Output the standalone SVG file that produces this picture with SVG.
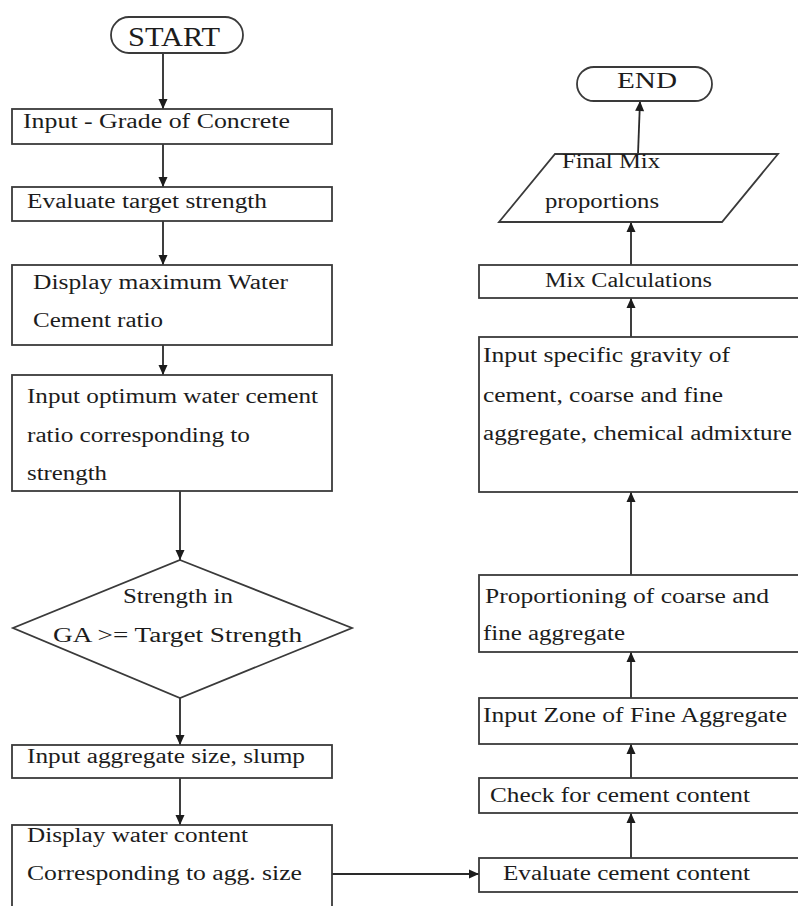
<svg xmlns="http://www.w3.org/2000/svg" width="798" height="906" viewBox="0 0 798 906">
<style>
  .shape { fill: #ffffff; stroke: #3a3a3a; stroke-width: 1.8; }
  .conn { fill: none; stroke: #2a2a2a; stroke-width: 1.8; }
  text { font-size: 20px; fill: #1c1c1c; }
  .term { font-size: 28px; }
  .term2 { font-size: 23px; }
</style>
<defs>
  <marker id="arr" markerUnits="userSpaceOnUse" markerWidth="12" markerHeight="12" viewBox="0 0 12 12" refX="11" refY="6" orient="auto">
    <path d="M1,1.5 L11,6 L1,10.5 Z" fill="#1c1c1c"/>
  </marker>
</defs>
<rect width="798" height="906" fill="#ffffff"/>

<g id="connectors">
  <line class="conn" x1="163" y1="53" x2="163" y2="109" marker-end="url(#arr)"/>
  <line class="conn" x1="163" y1="144" x2="163" y2="187" marker-end="url(#arr)"/>
  <line class="conn" x1="163" y1="221" x2="163" y2="265" marker-end="url(#arr)"/>
  <line class="conn" x1="163" y1="345" x2="163" y2="375" marker-end="url(#arr)"/>
  <line class="conn" x1="180" y1="491" x2="180" y2="560" marker-end="url(#arr)"/>
  <line class="conn" x1="180" y1="698" x2="180" y2="745" marker-end="url(#arr)"/>
  <line class="conn" x1="180" y1="778" x2="180" y2="825" marker-end="url(#arr)"/>
  <line class="conn" x1="332" y1="874" x2="479" y2="874" marker-end="url(#arr)"/>
  <line class="conn" x1="631" y1="858" x2="631" y2="813" marker-end="url(#arr)"/>
  <line class="conn" x1="631" y1="778" x2="631" y2="744" marker-end="url(#arr)"/>
  <line class="conn" x1="631" y1="698" x2="631" y2="652" marker-end="url(#arr)"/>
  <line class="conn" x1="631" y1="575" x2="631" y2="492" marker-end="url(#arr)"/>
  <line class="conn" x1="631" y1="337" x2="631" y2="298" marker-end="url(#arr)"/>
  <line class="conn" x1="631" y1="265" x2="631" y2="222" marker-end="url(#arr)"/>
  <line class="conn" x1="638" y1="154" x2="640" y2="101" marker-end="url(#arr)"/>
</g>

<g font-family="'Liberation Serif', 'DejaVu Serif', 'Times New Roman', serif">
<g id="start">
  <rect class="shape" x="111" y="17" width="132" height="36" rx="18" ry="18"/>
  <text class="term" x="128" y="46" textLength="92" lengthAdjust="spacingAndGlyphs">START</text>
</g>

<g id="grade">
  <rect class="shape" x="12" y="109" width="320" height="35"/>
  <text x="23" y="128" textLength="267" lengthAdjust="spacingAndGlyphs">Input - Grade of Concrete</text>
</g>

<g id="target">
  <rect class="shape" x="12" y="187" width="320" height="34"/>
  <text x="27" y="208" textLength="240" lengthAdjust="spacingAndGlyphs">Evaluate target strength</text>
</g>

<g id="maxwc">
  <rect class="shape" x="12" y="265" width="320" height="80"/>
  <text x="33" y="289" textLength="255" lengthAdjust="spacingAndGlyphs">Display maximum Water</text>
  <text x="33" y="327" textLength="130" lengthAdjust="spacingAndGlyphs">Cement ratio</text>
</g>

<g id="optwc">
  <rect class="shape" x="12" y="375" width="320" height="116"/>
  <text x="27" y="403" textLength="291" lengthAdjust="spacingAndGlyphs">Input optimum water cement</text>
  <text x="27" y="442" textLength="223" lengthAdjust="spacingAndGlyphs">ratio corresponding to</text>
  <text x="27" y="480" textLength="80" lengthAdjust="spacingAndGlyphs">strength</text>
</g>

<g id="decision">
  <polygon class="shape" points="180,560 352,628 180,698 13,628"/>
  <text x="123" y="603" textLength="110" lengthAdjust="spacingAndGlyphs">Strength in</text>
  <text x="53" y="642" textLength="249" lengthAdjust="spacingAndGlyphs">GA &gt;= Target Strength</text>
</g>

<g id="aggsize">
  <rect class="shape" x="12" y="745" width="320" height="33"/>
  <text x="27" y="763" textLength="278" lengthAdjust="spacingAndGlyphs">Input aggregate size, slump</text>
</g>

<g id="water">
  <rect class="shape" x="12" y="825" width="320" height="95"/>
  <text x="27" y="842" textLength="221" lengthAdjust="spacingAndGlyphs">Display water content</text>
  <text x="27" y="880" textLength="275" lengthAdjust="spacingAndGlyphs">Corresponding to agg. size</text>
</g>

<g id="evalcement">
  <rect class="shape" x="479" y="858" width="330" height="34"/>
  <text x="503" y="880" textLength="247" lengthAdjust="spacingAndGlyphs">Evaluate cement content</text>
</g>

<g id="checkcement">
  <rect class="shape" x="479" y="778" width="330" height="35"/>
  <text x="490" y="802" textLength="260" lengthAdjust="spacingAndGlyphs">Check for cement content</text>
</g>

<g id="zone">
  <rect class="shape" x="479" y="698" width="330" height="46"/>
  <text x="483" y="722" textLength="304" lengthAdjust="spacingAndGlyphs">Input Zone of Fine Aggregate</text>
</g>

<g id="proportioning">
  <rect class="shape" x="479" y="575" width="330" height="77"/>
  <text x="485" y="603" textLength="284" lengthAdjust="spacingAndGlyphs">Proportioning of coarse and</text>
  <text x="483" y="640" textLength="142" lengthAdjust="spacingAndGlyphs">fine aggregate</text>
</g>

<g id="gravity">
  <rect class="shape" x="479" y="337" width="330" height="155"/>
  <text x="483" y="362" textLength="247" lengthAdjust="spacingAndGlyphs">Input specific gravity of</text>
  <text x="483" y="402" textLength="240" lengthAdjust="spacingAndGlyphs">cement, coarse and fine</text>
  <text x="483" y="440" textLength="309" lengthAdjust="spacingAndGlyphs">aggregate, chemical admixture</text>
</g>

<g id="mixcalc">
  <rect class="shape" x="479" y="265" width="330" height="33"/>
  <text x="545" y="287" textLength="167" lengthAdjust="spacingAndGlyphs">Mix Calculations</text>
</g>

<g id="finalmix">
  <polygon class="shape" points="555,154 778,154 722,222 499,222"/>
  <text x="562" y="168" textLength="98" lengthAdjust="spacingAndGlyphs">Final Mix</text>
  <text x="545" y="208" textLength="114" lengthAdjust="spacingAndGlyphs">proportions</text>
</g>

<g id="end">
  <rect class="shape" x="577" y="67" width="135" height="34" rx="17" ry="17"/>
  <text class="term2" x="617" y="88" textLength="60" lengthAdjust="spacingAndGlyphs">END</text>
</g>
</g>
</svg>
